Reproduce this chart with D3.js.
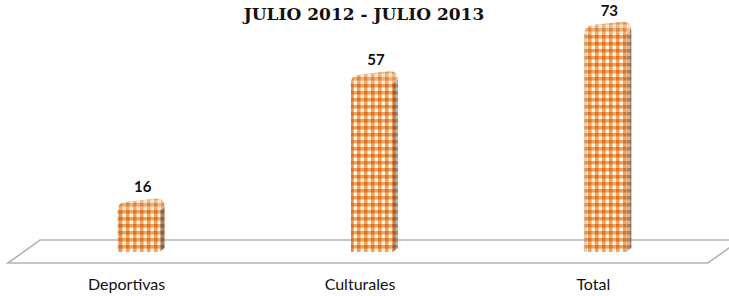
<!DOCTYPE html>
<html><head><meta charset="utf-8">
<script src="https://cdn.jsdelivr.net/npm/d3@7"></script>
<style>body{margin:0;background:#fff}svg{display:block}</style>
</head><body>
<script>
const title = "JULIO 2012 - JULIO 2013";
const categories = ["Deportivas", "Culturales", "Total"];
const values = [16, 57, 73];

const W = 729, H = 296;
const svg = d3.select("body").append("svg").attr("width", W).attr("height", H);
const defs = svg.append("defs");

function gingham(id, bg, stripe, dark) {
  const p = defs.append("pattern").attr("id", id).attr("patternUnits", "userSpaceOnUse")
    .attr("width", 7).attr("height", 7);
  p.append("rect").attr("width", 7).attr("height", 7).attr("fill", bg);
  p.append("rect").attr("x", 0).attr("y", 0).attr("width", 7).attr("height", 3.5).attr("fill", stripe);
  p.append("rect").attr("x", 0).attr("y", 0).attr("width", 3.5).attr("height", 7).attr("fill", stripe);
  p.append("rect").attr("x", 0).attr("y", 0).attr("width", 3.5).attr("height", 3.5).attr("fill", dark);
}
gingham("front", "#fff3e4", "#f2a35a", "#dc7328");
gingham("side", "#c9b6a4", "#b0835c", "#8c6040");
gingham("cap", "#fbe3c9", "#eeb27c", "#d9894a");

const x = d3.scaleBand().domain(categories).range([22, 722]);
const y = d3.scaleLinear().domain([0, 80]).range([252, 4]);
const bw = 42, depth = 5, rise = 4;

// floor
const fl = { bl: 40, br: 740, by: 240, fl: 8, fr: 708, fy: 263 };
svg.append("path")
  .attr("d", `M${fl.bl},${fl.by}L${fl.br},${fl.by}L${fl.fr},${fl.fy}L${fl.fl},${fl.fy}Z`)
  .attr("fill", "#fff").attr("stroke", "#b4b4b4").attr("stroke-width", 1.6);

// bars
const g = svg.append("g");
categories.forEach((c, i) => {
  const cx = x(c) + x.bandwidth() / 2;
  const x0 = cx - bw / 2, x1 = cx + bw / 2;
  const top = y(values[i]), bot = y(0);
  const r = 8;
  g.append("path")
    .attr("d", `M${x1},${top + r}L${x1 + depth},${top + r - rise}L${x1 + depth},${bot - rise}L${x1},${bot}Z`)
    .attr("fill", "url(#side)");
  g.append("path")
    .attr("d", `M${x0},${bot}L${x0},${top + r}Q${x0},${top} ${x0 + r},${top}L${x1 - r},${top}Q${x1},${top} ${x1},${top + r}L${x1},${bot}Z`)
    .attr("fill", "url(#front)");
  g.append("path")
    .attr("d", `M${x0 + 1},${top + r}Q${x0 + 1},${top} ${x0 + r + 2},${top - 1}L${x1 - r + depth},${top - rise}Q${x1 + depth},${top - rise} ${x1 + depth},${top + r - rise}L${x1},${top + r}Z`)
    .attr("fill", "url(#cap)").attr("opacity", 0.9);
  g.append("rect").attr("x", x0).attr("y", top + r).attr("width", 3).attr("height", bot - top - r)
    .attr("fill", "#a07050").attr("opacity", 0.25);
  g.append("text").attr("x", cx + 4).attr("y", top - 10)
    .attr("text-anchor", "middle").attr("font-family", "Lato, 'Open Sans', sans-serif")
    .attr("font-weight", "bold").attr("font-size", 15).attr("fill", "#111").text(values[i]);
  g.append("text").attr("x", cx - 12).attr("y", 290)
    .attr("text-anchor", "middle").attr("font-family", "Lato, 'Open Sans', sans-serif")
    .attr("font-size", 16).attr("fill", "#111").text(c);
});

svg.append("text").attr("x", 364).attr("y", 20).attr("text-anchor", "middle")
  .attr("font-family", "'DejaVu Serif', 'Liberation Serif', serif").attr("font-weight", "bold")
  .attr("font-size", 17).attr("fill", "#111").text(title);
</script>
</body></html>
